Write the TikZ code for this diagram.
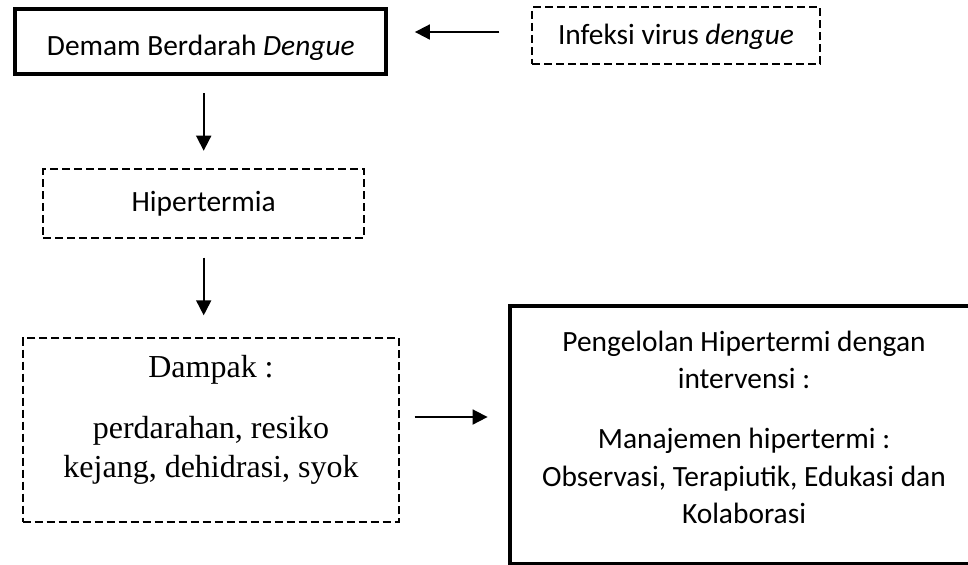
\documentclass[tikz,border=0pt]{standalone}
\usepackage{fontspec}
\setmainfont{Carlito}
\newfontfamily\timesfont{Liberation Serif}
\usetikzlibrary{arrows.meta,positioning}

\begin{document}
\begin{tikzpicture}[x=0.5pt, y=-0.5pt, ->, >={Triangle[length=7.5pt,width=7.5pt]}, line width=0.9pt,
    solid box/.style={rectangle, draw, line width=2pt, inner sep=0pt, align=center, font=\fontsize{14.7}{18.75}\selectfont},
    dash box/.style={rectangle, draw, line width=1pt, dash pattern=on 4pt off 2pt, inner sep=0pt, align=center, font=\fontsize{14.7}{18.75}\selectfont}]
    \useasboundingbox (0,0) rectangle (968,564);
    \clip (0,0) rectangle (968,564);

    \node[solid box, minimum width=185.5pt, minimum height=32.7pt, text height=16.8pt] (demam) at (200.8,41.3) {Demam Berdarah \textit{Dengue}};
    \node[dash box, minimum width=144pt, minimum height=28.3pt, text height=11.5pt] (infeksi) at (676,35.7) {Infeksi virus \textit{dengue}};
    \node[dash box, minimum width=160.3pt, minimum height=34.5pt] (hiper) at (203.7,203.8) {Hipertermia};
    \node[dash box, minimum width=188.3pt, minimum height=91.7pt, font=\timesfont\fontsize{16}{19.2}\selectfont] (dampak) at (211,430)
        {Dampak :\\[11.6pt] perdarahan, resiko\\ kejang, dehidrasi, syok\rule[-14pt]{0pt}{1pt}};
    \node[solid box, minimum width=234pt, minimum height=129pt] (kelola) at (744,435)
        {Pengelolan Hipertermi dengan\\ intervensi :\\[11.25pt] Manajemen hipertermi :\\ Observasi, Terapiutik, Edukasi dan\\ Kolaborasi\rule[-7.5pt]{0pt}{1pt}};

    \coordinate (infeksi out) at ([yshift=1.85pt]infeksi.west);
    \coordinate (dampak out) at ([yshift=6.5pt]dampak.east);

    \path
        (infeksi out) edge[shorten <=15.8pt, shorten >=13.3pt] (infeksi out -| demam.east)
        (hiper.north |- demam.south) edge[shorten <=8.5pt, shorten >=8.8pt] (hiper.north)
        (hiper.south) edge[shorten <=9.2pt, shorten >=11pt] (hiper.south |- dampak.north)
        (dampak out) edge[shorten <=7.2pt, shorten >=10.2pt] (dampak out -| kelola.west);
\end{tikzpicture}
\end{document}
